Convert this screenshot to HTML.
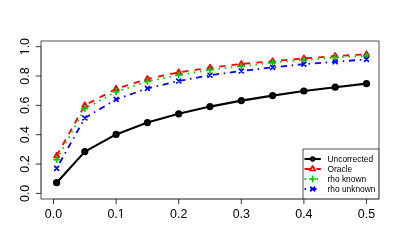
<!DOCTYPE html><html><head><meta charset="utf-8"><style>html,body{margin:0;padding:0;background:#fff;overflow:hidden;width:400px;height:250px}svg{display:block}svg{will-change:transform}text{font-family:"Liberation Sans",sans-serif;fill:#000}</style></head><body>
<svg width="400" height="250" viewBox="0 0 400 250">
<rect width="400" height="250" fill="#fff"/>
<polyline points="56.65,182.70 84.82,151.60 116.11,134.40 147.41,122.60 178.71,113.80 210.00,106.60 241.30,100.60 272.60,95.60 303.89,91.00 335.19,87.20 366.48,83.60" fill="none" stroke="#000" stroke-width="2.1" stroke-linejoin="round" stroke-linecap="round"/>
<polyline points="56.65,155.80 84.82,105.30 116.11,88.80 147.41,78.95 178.71,72.30 210.00,67.70 241.30,64.00 272.60,61.10 303.89,58.40 335.19,56.00 366.48,54.30" fill="none" stroke="#f00" stroke-width="1.8" stroke-dasharray="6.216,6.216" stroke-dashoffset="0" stroke-linejoin="round" stroke-linecap="butt"/>
<polyline points="56.65,159.60 84.82,108.60 116.11,91.80 147.41,81.40 178.71,75.00 210.00,69.85 241.30,66.20 272.60,62.60 303.89,60.00 335.19,57.40 366.48,55.80" fill="none" stroke="#00cd00" stroke-width="1.8" stroke-dasharray="1.554,4.662" stroke-dashoffset="0" stroke-linejoin="round"/>
<polyline points="56.65,168.40 84.82,118.00 116.11,99.40 147.41,88.40 178.71,81.00 210.00,75.20 241.30,71.00 272.60,67.40 303.89,64.10 335.19,61.80 366.48,59.40" fill="none" stroke="#00f" stroke-width="1.8" stroke-dasharray="1.554,4.662,6.216,4.662" stroke-dashoffset="0" stroke-linejoin="round"/>
<circle cx="56.65" cy="182.70" r="3.6" fill="#000"/><circle cx="56.65" cy="182.70" r="0.7" fill="#2e2e2e"/>
<circle cx="84.82" cy="151.60" r="3.6" fill="#000"/><circle cx="84.82" cy="151.60" r="0.7" fill="#2e2e2e"/>
<circle cx="116.11" cy="134.40" r="3.6" fill="#000"/><circle cx="116.11" cy="134.40" r="0.7" fill="#2e2e2e"/>
<circle cx="147.41" cy="122.60" r="3.6" fill="#000"/><circle cx="147.41" cy="122.60" r="0.7" fill="#2e2e2e"/>
<circle cx="178.71" cy="113.80" r="3.6" fill="#000"/><circle cx="178.71" cy="113.80" r="0.7" fill="#2e2e2e"/>
<circle cx="210.00" cy="106.60" r="3.6" fill="#000"/><circle cx="210.00" cy="106.60" r="0.7" fill="#2e2e2e"/>
<circle cx="241.30" cy="100.60" r="3.6" fill="#000"/><circle cx="241.30" cy="100.60" r="0.7" fill="#2e2e2e"/>
<circle cx="272.60" cy="95.60" r="3.6" fill="#000"/><circle cx="272.60" cy="95.60" r="0.7" fill="#2e2e2e"/>
<circle cx="303.89" cy="91.00" r="3.6" fill="#000"/><circle cx="303.89" cy="91.00" r="0.7" fill="#2e2e2e"/>
<circle cx="335.19" cy="87.20" r="3.6" fill="#000"/><circle cx="335.19" cy="87.20" r="0.7" fill="#2e2e2e"/>
<circle cx="366.48" cy="83.60" r="3.6" fill="#000"/><circle cx="366.48" cy="83.60" r="0.7" fill="#2e2e2e"/>
<polygon points="56.65,152.77 59.28,157.32 54.02,157.32" fill="none" stroke="#f00" stroke-width="1.7" stroke-linejoin="round"/>
<polygon points="84.82,102.27 87.44,106.82 82.19,106.82" fill="none" stroke="#f00" stroke-width="1.7" stroke-linejoin="round"/>
<polygon points="116.11,85.77 118.74,90.32 113.49,90.32" fill="none" stroke="#f00" stroke-width="1.7" stroke-linejoin="round"/>
<polygon points="147.41,75.92 150.04,80.47 144.78,80.47" fill="none" stroke="#f00" stroke-width="1.7" stroke-linejoin="round"/>
<polygon points="178.71,69.27 181.33,73.82 176.08,73.82" fill="none" stroke="#f00" stroke-width="1.7" stroke-linejoin="round"/>
<polygon points="210.00,64.67 212.63,69.22 207.38,69.22" fill="none" stroke="#f00" stroke-width="1.7" stroke-linejoin="round"/>
<polygon points="241.30,60.97 243.93,65.52 238.67,65.52" fill="none" stroke="#f00" stroke-width="1.7" stroke-linejoin="round"/>
<polygon points="272.60,58.07 275.22,62.62 269.97,62.62" fill="none" stroke="#f00" stroke-width="1.7" stroke-linejoin="round"/>
<polygon points="303.89,55.37 306.52,59.92 301.27,59.92" fill="none" stroke="#f00" stroke-width="1.7" stroke-linejoin="round"/>
<polygon points="335.19,52.97 337.81,57.52 332.56,57.52" fill="none" stroke="#f00" stroke-width="1.7" stroke-linejoin="round"/>
<polygon points="366.48,51.27 369.11,55.82 363.86,55.82" fill="none" stroke="#f00" stroke-width="1.7" stroke-linejoin="round"/>
<path d="M53.89,159.60H59.41M56.65,156.84V162.36" stroke="#00cd00" stroke-width="1.7" stroke-linecap="round" fill="none"/>
<path d="M82.06,108.60H87.57M84.82,105.84V111.36" stroke="#00cd00" stroke-width="1.7" stroke-linecap="round" fill="none"/>
<path d="M113.36,91.80H118.87M116.11,89.04V94.56" stroke="#00cd00" stroke-width="1.7" stroke-linecap="round" fill="none"/>
<path d="M144.65,81.40H150.17M147.41,78.64V84.16" stroke="#00cd00" stroke-width="1.7" stroke-linecap="round" fill="none"/>
<path d="M175.95,75.00H181.46M178.71,72.24V77.76" stroke="#00cd00" stroke-width="1.7" stroke-linecap="round" fill="none"/>
<path d="M207.24,69.85H212.76M210.00,67.09V72.61" stroke="#00cd00" stroke-width="1.7" stroke-linecap="round" fill="none"/>
<path d="M238.54,66.20H244.06M241.30,63.44V68.96" stroke="#00cd00" stroke-width="1.7" stroke-linecap="round" fill="none"/>
<path d="M269.84,62.60H275.35M272.60,59.84V65.36" stroke="#00cd00" stroke-width="1.7" stroke-linecap="round" fill="none"/>
<path d="M301.13,60.00H306.65M303.89,57.24V62.76" stroke="#00cd00" stroke-width="1.7" stroke-linecap="round" fill="none"/>
<path d="M332.43,57.40H337.95M335.19,54.64V60.16" stroke="#00cd00" stroke-width="1.7" stroke-linecap="round" fill="none"/>
<path d="M363.73,55.80H369.24M366.48,53.04V58.56" stroke="#00cd00" stroke-width="1.7" stroke-linecap="round" fill="none"/>
<path d="M54.70,166.45L58.60,170.35M54.70,170.35L58.60,166.45" stroke="#00f" stroke-width="1.7" stroke-linecap="round" fill="none"/>
<path d="M82.87,116.05L86.77,119.95M82.87,119.95L86.77,116.05" stroke="#00f" stroke-width="1.7" stroke-linecap="round" fill="none"/>
<path d="M114.16,97.45L118.06,101.35M114.16,101.35L118.06,97.45" stroke="#00f" stroke-width="1.7" stroke-linecap="round" fill="none"/>
<path d="M145.46,86.45L149.36,90.35M145.46,90.35L149.36,86.45" stroke="#00f" stroke-width="1.7" stroke-linecap="round" fill="none"/>
<path d="M176.76,79.05L180.66,82.95M176.76,82.95L180.66,79.05" stroke="#00f" stroke-width="1.7" stroke-linecap="round" fill="none"/>
<path d="M208.05,73.25L211.95,77.15M208.05,77.15L211.95,73.25" stroke="#00f" stroke-width="1.7" stroke-linecap="round" fill="none"/>
<path d="M239.35,69.05L243.25,72.95M239.35,72.95L243.25,69.05" stroke="#00f" stroke-width="1.7" stroke-linecap="round" fill="none"/>
<path d="M270.65,65.45L274.55,69.35M270.65,69.35L274.55,65.45" stroke="#00f" stroke-width="1.7" stroke-linecap="round" fill="none"/>
<path d="M301.94,62.15L305.84,66.05M301.94,66.05L305.84,62.15" stroke="#00f" stroke-width="1.7" stroke-linecap="round" fill="none"/>
<path d="M333.24,59.85L337.14,63.75M333.24,63.75L337.14,59.85" stroke="#00f" stroke-width="1.7" stroke-linecap="round" fill="none"/>
<path d="M364.53,57.45L368.43,61.35M364.53,61.35L368.43,57.45" stroke="#00f" stroke-width="1.7" stroke-linecap="round" fill="none"/>
<rect x="41.0" y="41.0" width="338.0" height="158.0" stroke="#000" stroke-width="0.68" fill="none"/>
<path d="M53.52,199.0H366.48" stroke="#000" stroke-width="0.68" stroke-opacity="0.5" fill="none"/>
<path d="M53.52,199.0v5.2M116.11,199.0v5.2M178.71,199.0v5.2M241.30,199.0v5.2M303.89,199.0v5.2M366.48,199.0v5.2" stroke="#000" stroke-width="0.78" fill="none" stroke-linecap="butt"/>
<text x="53.52" y="217.5" font-size="12.45" text-anchor="middle">0.0</text>
<text x="116.11" y="217.5" font-size="12.45" text-anchor="middle">0.1</text>
<text x="178.71" y="217.5" font-size="12.45" text-anchor="middle">0.2</text>
<text x="241.30" y="217.5" font-size="12.45" text-anchor="middle">0.3</text>
<text x="303.89" y="217.5" font-size="12.45" text-anchor="middle">0.4</text>
<text x="366.48" y="217.5" font-size="12.45" text-anchor="middle">0.5</text>
<path d="M41.0,193.40V46.65" stroke="#000" stroke-width="0.68" stroke-opacity="0.5" fill="none"/>
<path d="M41.0,193.40h-5.2M41.0,164.05h-5.2M41.0,134.70h-5.2M41.0,105.35h-5.2M41.0,76.00h-5.2M41.0,46.65h-5.2" stroke="#000" stroke-width="0.78" fill="none" stroke-linecap="butt"/>
<text transform="translate(29.0,193.40) rotate(-90)" font-size="12.45" text-anchor="middle">0.0</text>
<text transform="translate(29.0,164.05) rotate(-90)" font-size="12.45" text-anchor="middle">0.2</text>
<text transform="translate(29.0,134.70) rotate(-90)" font-size="12.45" text-anchor="middle">0.4</text>
<text transform="translate(29.0,105.35) rotate(-90)" font-size="12.45" text-anchor="middle">0.6</text>
<text transform="translate(29.0,76.00) rotate(-90)" font-size="12.45" text-anchor="middle">0.8</text>
<text transform="translate(29.0,46.65) rotate(-90)" font-size="12.45" text-anchor="middle">1.0</text>
<rect x="118" y="216" width="2.87" height="2" fill="#fff"/>
<rect x="122" y="216" width="3" height="2" fill="#fff"/>
<rect x="27.6" y="48.59" width="2.0" height="2.39" fill="#fff"/>
<rect x="27.6" y="52.27" width="2.0" height="2.58" fill="#fff"/>
<path d="M303,199V149H379" stroke="#000" stroke-width="0.68" fill="none"/>
<path d="M366.48,199H379V149" stroke="#000" stroke-width="0.68" stroke-opacity="0.5" fill="none"/>
<path d="M304.5,159H320.8" stroke="#000" stroke-width="2.1" fill="none"/>
<circle cx="312.65" cy="159.00" r="2.7" fill="#000"/><circle cx="312.65" cy="159.00" r="0.7" fill="#484848"/>
<text x="327.5" y="162.0" font-size="8.4">Uncorrected</text>
<path d="M304.5,169H320.8" stroke="#f00" stroke-width="1.8" stroke-dasharray="6,6" fill="none"/>
<polygon points="312.65,165.97 315.28,170.52 310.02,170.52" fill="none" stroke="#f00" stroke-width="1.7" stroke-linejoin="round"/>
<text x="327.5" y="172.0" font-size="8.4">Oracle</text>
<path d="M304.5,179H320.8" stroke="#00cd00" stroke-width="1.8" stroke-dasharray="1.5,4.5" fill="none"/>
<path d="M309.89,179.00H315.41M312.65,176.24V181.76" stroke="#00cd00" stroke-width="1.7" stroke-linecap="round" fill="none"/>
<text x="327.5" y="182.0" font-size="8.4">rho known</text>
<path d="M304.5,189H320.8" stroke="#00f" stroke-width="1.8" stroke-dasharray="1.5,4.5,6,4.5" fill="none"/>
<path d="M310.70,187.05L314.60,190.95M310.70,190.95L314.60,187.05" stroke="#00f" stroke-width="1.7" stroke-linecap="round" fill="none"/>
<text x="327.5" y="192.0" font-size="8.4">rho unknown</text>
</svg></body></html>
